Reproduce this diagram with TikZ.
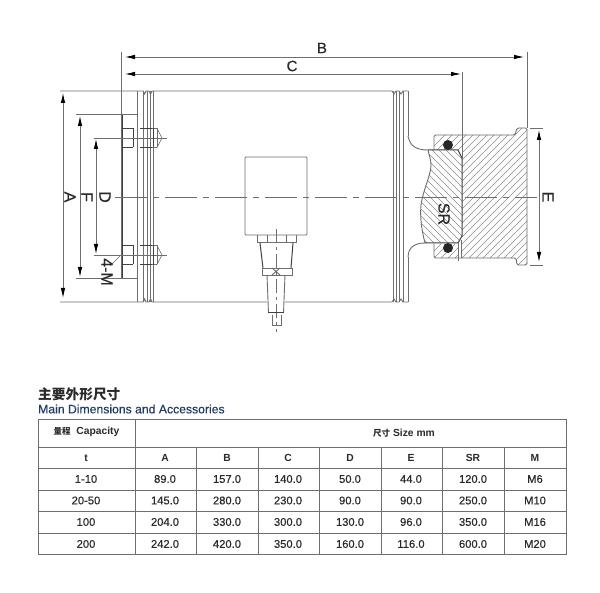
\documentclass[tikz,border=0pt]{standalone}
\usepackage{fontspec}
\setmainfont{Liberation Sans}
\newfontfamily\cjkfont{Noto Sans CJK SC}
\newfontfamily\semifont[FakeBold=0.35]{Liberation Sans}
\usetikzlibrary{arrows.meta}
\definecolor{lineg}{HTML}{6E6E6E}
\definecolor{darkl}{HTML}{404040}
\definecolor{hatchg}{HTML}{8C8C8C}
\definecolor{navy}{HTML}{1F3A68}
\definecolor{txt}{HTML}{2A2A2A}
\tikzset{
  ln/.style={draw=lineg,line width=0.9pt},
  dk/.style={draw=darkl,line width=1pt},
  thinl/.style={draw=lineg,line width=0.6pt},
  centre/.style={draw=lineg,line width=0.7pt,dash pattern=on 32pt off 6pt on 6pt off 6pt},
  dim/.style={draw=lineg,line width=0.8pt,{Latex[length=10pt,width=4.5pt,black]}-{Latex[length=10pt,width=4.5pt,black]}},
  lab/.style={font=\semifont\fontsize{15}{15}\selectfont,text=txt,inner sep=0pt},
  vlab/.style={lab,font=\semifont\fontsize{16}{16}\selectfont,rotate=-90},
  hatchl/.style={draw=hatchg,line width=0.6pt},
  grid/.style={draw=lineg,line width=0.9pt},
  cell/.style={font=\semifont\fontsize{11.2}{12}\selectfont,text=txt,inner sep=0pt},
  headc/.style={font=\fontsize{10.3}{11}\selectfont\bfseries,text=txt,inner sep=0pt},
}
\begin{document}
\begin{tikzpicture}[x=1pt,y=-1pt]
\useasboundingbox (0,0) rectangle (600,593);
\fill[white] (0,0) rectangle (600,593);

% named reference points
\coordinate (bl) at (125,57);  \coordinate (br) at (524,57);
\coordinate (cl) at (125,74);  \coordinate (cr) at (461,74);
\coordinate (at) at (63,93);   \coordinate (ab) at (63,298);
\coordinate (ft) at (80,116);  \coordinate (fb) at (80,277);
\coordinate (dt) at (96,139);  \coordinate (db) at (96,254);
\coordinate (et) at (539,130); \coordinate (eb) at (539,262);

% hatching: housing and seal grooves
\begin{scope}
\clip (462,135) -- (515,135) -- (517,128) -- (527,128) -- (527,265) -- (517,265) -- (516,258) -- (462,258) -- cycle
      (434,135) rectangle (462,150)
      (434,244) rectangle (458,258);
\foreach \i in {300,307,...,540} \draw[hatchl] (\i,280) -- ++(170,-170);
\end{scope}
% hatching: spherical insert
\begin{scope}
\clip (428,150) -- (458,150) -- (462,158) -- (462,236) -- (458,243) -- (425,243)
   .. controls (421,228) and (420,215) .. (421,205)
   .. controls (423,190) and (431,175) .. (431,165)
   .. controls (431,160) and (429,155) .. (428,150) -- cycle;
\foreach \i in {310,317,...,470} \draw[hatchl] (\i,140) -- ++(120,120);
\end{scope}

% housing outline
\draw[ln,rounded corners=1.5pt] (434,150) -- (434,135) -- (515,135) -- (517,128) -- (527,128) -- (527,265) -- (517,265) -- (516,258) -- (434,258) -- (434,244);
% insert outline
\draw[dk] (428,150) -- (458,150) -- (462,158) -- (462,236) -- (458,243) -- (425,243);
\draw[ln] (428,150) .. controls (429,155) and (431,160) .. (431,165)
   .. controls (431,175) and (423,190) .. (421,205)
   .. controls (420,215) and (421,228) .. (425,243);
\draw[ln] (458,243) -- (458,261) (461,240) -- (461,258);
% neck curves
\draw[ln] (408,136) .. controls (410,146) and (416,150) .. (428,150);
\draw[ln] (408,257) .. controls (408,250) and (412,243) .. (425,243);
% seal rings
\fill[black!85] (448,145) circle (5);
\fill[black!85] (448,248) circle (5);

% body: top and bottom edges with ring grooves
\draw[ln] (60,91) -- (143,91) -- (144.5,94) -- (146,91) -- (149,91) -- (150.5,94) -- (152,91) -- (392,91) -- (394,94) -- (396,91) -- (399,91) -- (401,94) -- (403,91) -- (408,91);
\draw[ln] (60,302) -- (143,302) -- (144.5,299) -- (146,302) -- (149,302) -- (150.5,299) -- (152,302) -- (392,302) -- (394,299) -- (396,302) -- (399,302) -- (401,299) -- (403,302) -- (408,302);
% body verticals
\foreach \x in {137,143,147,150,153,393,396,399,403} \draw[ln] (\x,91) -- (\x,302);
\draw[ln] (408,91) -- (408,136) (408,257) -- (408,302);

% left flange and extension lines
\draw[ln] (121,52) -- (121,278);
\draw[dk] (122,114) -- (122,278);
\draw[ln] (76,114) -- (137,114);
\draw[ln] (76,278) -- (137,278);
\draw[ln] (94,138) -- (120,138);
\draw[ln] (94,255) -- (120,255);

% bolts
\foreach \c in {138,255}{
  \draw[dk] (122,\c-9.5) -- (133,\c-9.5) (122,\c+9.5) -- (133,\c+9.5) (133,\c-9.5) -- (133,\c+9.5);
  \draw[dk] (140,\c-9.5) -- (152,\c-9.5) (140,\c+9.5) -- (152,\c+9.5);
  \draw[thinl] (152,\c-9.5) -- (157,\c-9.5) -- (162,\c) -- (157,\c+9.5) -- (152,\c+9.5);
  \draw[thinl] (157,\c-9.5) -- (157,\c+9.5);
  \draw[thinl] (115,\c) -- (167,\c);
}
\draw[dk] (153,128) -- (153,147) (153,245) -- (153,265);

% white ground for the sensor block and cable
\fill[white] (245,157) rectangle (307,235);
\fill[white] (267,275) rectangle (285,313);

% centre lines
\draw[centre] (115,197) -- (537,197);
\draw[centre,dash pattern=on 14pt off 4pt on 3pt off 4pt] (276,229) -- (276,332);

% sensor block and fitting
\draw[ln,rounded corners=1pt] (245,157) rectangle (307,235);
\draw[ln] (257,235) -- (257,242) -- (296,242) -- (296,235);
\draw[ln] (267,235) -- (267,242) (286,235) -- (286,242);
\draw[dk] (260,243) -- (263,268) (293,243) -- (291,268);
\draw[ln] (262.5,268) rectangle (292,275);
\draw[ln] (272,268) -- (280,275) (280,268) -- (272,275);
\draw[ln] (267,275) -- (268.5,313) (285,275) -- (283.5,313);
\draw[dk] (268,313) -- (284,313);
\draw[ln] (272,315) -- (272,325) -- (281,325) -- (281,315);

% dimension lines
\draw[dim] (bl) -- (br);
\draw[dim] (cl) -- (cr);
\draw[dim] (at) -- (ab);
\draw[dim] (ft) -- (fb);
\draw[dim] (dt) -- (db);
\draw[dim] (et) -- (eb);
\draw[ln] (462,72) -- (462,158);
\draw[ln] (527,52) -- (527,128);
\draw[ln] (530,128) -- (543,128) (530,265) -- (543,265);
\draw[thinl] (120,256) -- (110,266);

% labels
\node[lab] (lb) at (322,48) {B};
\node[lab] (lc) at (292,66) {C};
\node[vlab] (la) at (70,197) {A};
\node[vlab] (lf) at (87,197) {F};
\node[vlab] (ld) at (105,197) {D};
\node[vlab] (lm) at (107,272) {4-M};
\node[vlab] (le) at (548,197) {E};
\node[vlab] (lsr) at (444,214) {SR};

% titles
\node[anchor=west,inner sep=0pt,text=txt,font=\cjkfont\fontsize{13.7}{14}\selectfont\bfseries] (t1) at (38,394) {主要外形尺寸};
\node[anchor=west,inner sep=0pt,text=navy,font=\semifont\fontsize{12.2}{12}\selectfont] (t2) at (38,409) {Main Dimensions and Accessories};

% table
\draw[grid] (38,419) rectangle (566,554);
\draw[grid] (38,447) -- (566,447);
\foreach \y in {468,490,511,533} \draw[grid] (38,\y) -- (566,\y);
\draw[grid] (135,419) -- (135,554);
\foreach \x in {196,258,319,381,442,504} \draw[grid] (\x,447) -- (\x,554);

\node[headc] (h1) at (86.5,432) {{\cjkfont\fontsize{8.5}{9}\selectfont 量程}\ \ Capacity};
\node[headc] (h2) at (404,433) {{\cjkfont\fontsize{8.5}{9}\selectfont 尺寸}\ Size mm};

\foreach \x/\s [count=\n] in {86/t,165/A,227/B,288/C,350/D,411/E,473/SR,535/M}
  \node[headc] (hc\n) at (\x,458) {\s};

\foreach \y/\a/\b/\c/\d/\e/\f/\g/\h [count=\r] in {
  479/1-10/89.0/157.0/140.0/50.0/44.0/120.0/M6,
  500.5/20-50/145.0/280.0/230.0/90.0/90.0/250.0/M10,
  522/100/204.0/330.0/300.0/130.0/96.0/350.0/M16,
  544/200/242.0/420.0/350.0/160.0/116.0/600.0/M20}{
  \node[cell] at (86,\y) {\a};
  \node[cell] at (165,\y) {\b};
  \node[cell] at (227,\y) {\c};
  \node[cell] at (288,\y) {\d};
  \node[cell] at (350,\y) {\e};
  \node[cell] at (411,\y) {\f};
  \node[cell] at (473,\y) {\g};
  \node[cell] at (535,\y) {\h};
}
\end{tikzpicture}
\end{document}
